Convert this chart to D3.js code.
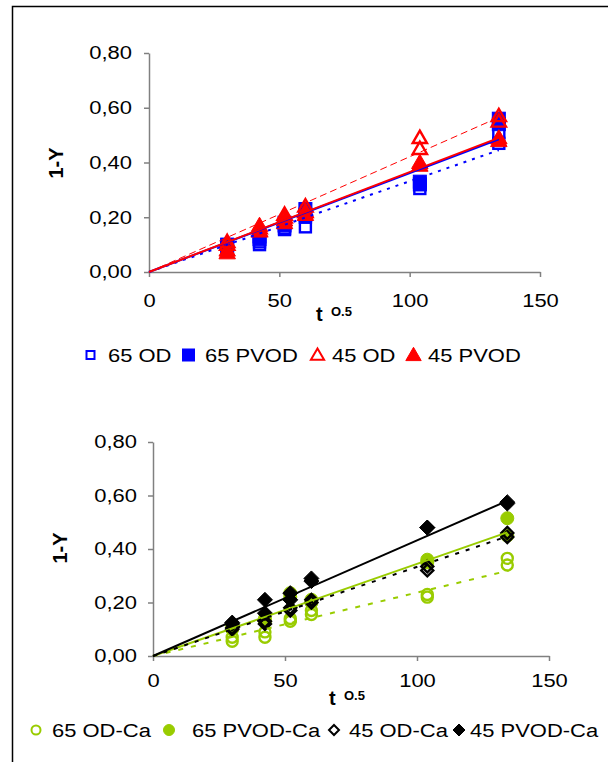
<!DOCTYPE html>
<html>
<head>
<meta charset="utf-8">
<script src="https://cdn.jsdelivr.net/npm/d3@7/dist/d3.min.js"></script>
<style>
  body { margin: 0; background: #fff; }
  text { font-family: "Liberation Sans", Arial, sans-serif; fill: #000; }
</style>
</head>
<body>
<div id="chart"></div>
<script>
// frame size
const FRAME_WIDTH = 608;
const FRAME_HEIGHT = 762;

// x values: square root of time (s)
const T_VALUES = [30, 42.4, 52, 60, 103.9, 134.2];
const X_TICKS = [0, 50, 100, 150];
const Y_TICKS = [0, 0.2, 0.4, 0.6, 0.8];

// top chart, two replicates per time
const OD_65 = [[0.10, 0.09], [0.10, 0.11], [0.155, 0.16], [0.165, 0.20], [0.305, 0.32], [0.51, 0.47]];
const PVOD_65 = [[0.09, 0.10], [0.13, 0.12], [0.18, 0.17], [0.23, 0.21], [0.33, 0.32], [0.56, 0.54]];
const OD_45 = [[0.11, 0.10], [0.15, 0.16], [0.21, 0.20], [0.24, 0.22], [0.49, 0.45], [0.57, 0.55]];
const PVOD_45 = [[0.07, 0.08], [0.17, 0.15], [0.19, 0.18], [0.22, 0.21], [0.40, 0.39], [0.49, 0.48]];
// trend line value at the last time (lines go through origin)
const TREND_TOP = [0.445, 0.485, 0.565, 0.49];
const LEGEND_TOP = ["65 OD", "65 PVOD", "45 OD", "45 PVOD"];

// bottom chart (with calcium)
const OD_65_CA = [[0.07, 0.055], [0.09, 0.07], [0.14, 0.13], [0.17, 0.155], [0.23, 0.22], [0.365, 0.34]];
const PVOD_65_CA = [[0.10, 0.11], [0.14, 0.13], [0.235, 0.22], [0.21, 0.20], [0.36, 0.35], [0.515, 0.45]];
const OD_45_CA = [[0.105, 0.10], [0.13, 0.12], [0.17, 0.18], [0.20, 0.21], [0.32, 0.335], [0.46, 0.445]];
const PVOD_45_CA = [[0.125, 0.12], [0.21, 0.16], [0.235, 0.21], [0.29, 0.28], [0.48, 0.48], [0.575, 0.57]];
const TREND_BOTTOM = [0.318, 0.462, 0.447, 0.58];
const LEGEND_BOTTOM = ["65 OD-Ca", "65 PVOD-Ca", "45 OD-Ca", "45 PVOD-Ca"];

const BLUE = "#0000ff", RED = "#ff0000", GREEN = "#99cc00", BLACK = "#000000";
const STRETCH = 1.22;

const svg = d3.select("#chart").append("svg")
    .attr("width", FRAME_WIDTH)
    .attr("height", FRAME_HEIGHT);

svg.append("rect")
    .attr("x", 12.5).attr("y", 6.5)
    .attr("width", 700).attr("height", 800)
    .attr("fill", "none").attr("stroke", "#000").attr("stroke-width", 1.5);

// widen text like the original (it was stretched horizontally)
function stretch(sel, k) {
  sel.each(function() {
    const len = this.getComputedTextLength();
    d3.select(this).attr("textLength", len * k).attr("lengthAdjust", "spacingAndGlyphs");
  });
}

// marker shapes
function marker(g, kind, color, size) {
  const h = size / 2;
  if (kind == "square") {
    g.append("rect").attr("x", -h).attr("y", -h).attr("width", size).attr("height", size);
  } else if (kind == "triangle") {
    g.append("path").attr("d", `M0,${-h * 1.1}L${h * 1.1},${h * 0.8}L${-h * 1.1},${h * 0.8}Z`);
  } else if (kind == "diamond") {
    g.append("path").attr("d", `M0,${-h}L${h},0L0,${h}L${-h},0Z`);
  } else {
    g.append("circle").attr("r", h);
  }
}

function drawChart(cfg) {
  const x = d3.scaleLinear().domain([0, 150]).range(cfg.xRange);
  const y = d3.scaleLinear().domain([0, 0.8]).range(cfg.yRange);

  // y axis
  const ya = svg.append("g")
      .attr("transform", "translate(" + cfg.xRange[0] + ",0)")
      .call(d3.axisLeft(y).tickValues(Y_TICKS).tickSize(5).tickSizeOuter(0).tickPadding(cfg.yPad)
        .tickFormat(d => d3.format(".2f")(d).replace(".", ",")));
  // x axis
  const xa = svg.append("g")
      .attr("transform", "translate(0," + cfg.yRange[0] + ")")
      .call(d3.axisBottom(x).tickValues(X_TICKS).tickSize(5).tickSizeOuter(0).tickPadding(cfg.xPad));

  [ya, xa].forEach(a => {
    a.select(".domain").attr("stroke", "#808080").attr("stroke-width", 1.5);
    a.selectAll(".tick line").attr("stroke", "#808080").attr("stroke-width", 1.5);
    a.selectAll("text").attr("font-size", 18).attr("font-family", null).attr("fill", "#000");
    stretch(a.selectAll("text"), STRETCH);
  });

  // axis titles
  svg.append("text")
      .attr("transform", "translate(" + cfg.yTitle[0] + "," + cfg.yTitle[1] + ") rotate(-90)")
      .attr("text-anchor", "middle").attr("dy", "0.35em")
      .attr("font-size", 20).attr("font-weight", "bold")
      .text("1-Y");
  svg.append("text")
      .attr("x", cfg.xTitle[0]).attr("y", cfg.xTitle[1])
      .attr("font-size", 20).attr("font-weight", "bold").text("t");
  svg.append("text")
      .attr("x", cfg.xTitle[0] + 15).attr("y", cfg.xTitle[1] - 5)
      .attr("font-size", 13).attr("font-weight", "bold").text("O.5");

  // points
  cfg.series.forEach(s => {
    const pts = [];
    s.data.forEach((reps, i) => reps.forEach(v => pts.push({t: T_VALUES[i], v: v})));
    svg.selectAll(null)
        .data(pts)
        .enter()
        .append("g")
          .attr("transform", d => "translate(" + x(d.t) + "," + y(d.v) + ")")
          .attr("fill", s.filled ? s.color : "none")
          .attr("stroke", s.color)
          .attr("stroke-width", s.filled ? 1 : 2.4)
          .each(function() { marker(d3.select(this), s.kind, s.color, s.size); });
  });

  // trend lines through the origin
  cfg.series.forEach((s, i) => {
    const tEnd = T_VALUES[T_VALUES.length - 1];
    svg.append("line")
        .attr("x1", x(0)).attr("y1", y(0))
        .attr("x2", x(tEnd)).attr("y2", y(cfg.trend[i]))
        .attr("stroke", s.color)
        .attr("stroke-width", s.lineWidth)
        .attr("stroke-dasharray", s.dash);
  });

  // legend
  cfg.series.forEach((s, i) => {
    const lx = cfg.legendX[i];
    const g = svg.append("g")
        .attr("transform", "translate(" + lx + "," + cfg.legendY + ")")
        .attr("fill", s.filled ? s.color : "none")
        .attr("stroke", s.color)
        .attr("stroke-width", s.filled ? 1 : 2);
    marker(g, s.kind, s.color, s.legendSize);
    const t = svg.append("text")
        .attr("x", cfg.legendText[i]).attr("y", cfg.legendY + 6.5)
        .attr("font-size", 18)
        .text(cfg.labels[i]);
    stretch(t, STRETCH);
  });
}

drawChart({
  xRange: [149, 540], yRange: [272, 53],
  yPad: 12, xPad: 17,
  yTitle: [56, 163], xTitle: [316, 321],
  trend: TREND_TOP, labels: LEGEND_TOP,
  legendY: 355, legendX: [90.5, 188.5, 317.5, 413.5], legendText: [108, 205, 332, 428],
  series: [
    {data: OD_65, kind: "square", color: BLUE, filled: false, size: 11, legendSize: 8, lineWidth: 2, dash: "3,6"},
    {data: PVOD_65, kind: "square", color: BLUE, filled: true, size: 13, legendSize: 12, lineWidth: 2, dash: null},
    {data: OD_45, kind: "triangle", color: RED, filled: false, size: 13, legendSize: 12, lineWidth: 1, dash: "7,4"},
    {data: PVOD_45, kind: "triangle", color: RED, filled: true, size: 15, legendSize: 14, lineWidth: 2, dash: null}
  ]
});

drawChart({
  xRange: [153, 549], yRange: [656, 442],
  yPad: 11, xPad: 13,
  yTitle: [60, 548], xTitle: [329, 705],
  trend: TREND_BOTTOM, labels: LEGEND_BOTTOM,
  legendY: 730, legendX: [36, 169, 334, 459], legendText: [52, 192, 349, 470],
  series: [
    {data: OD_65_CA, kind: "circle", color: GREEN, filled: false, size: 11, legendSize: 9, lineWidth: 2, dash: "5,8"},
    {data: PVOD_65_CA, kind: "circle", color: GREEN, filled: true, size: 13, legendSize: 11, lineWidth: 2, dash: null},
    {data: OD_45_CA, kind: "diamond", color: BLACK, filled: false, size: 12, legendSize: 10, lineWidth: 2, dash: "4,7"},
    {data: PVOD_45_CA, kind: "diamond", color: BLACK, filled: true, size: 15, legendSize: 12, lineWidth: 2, dash: null}
  ]
});
</script>
</body>
</html>
